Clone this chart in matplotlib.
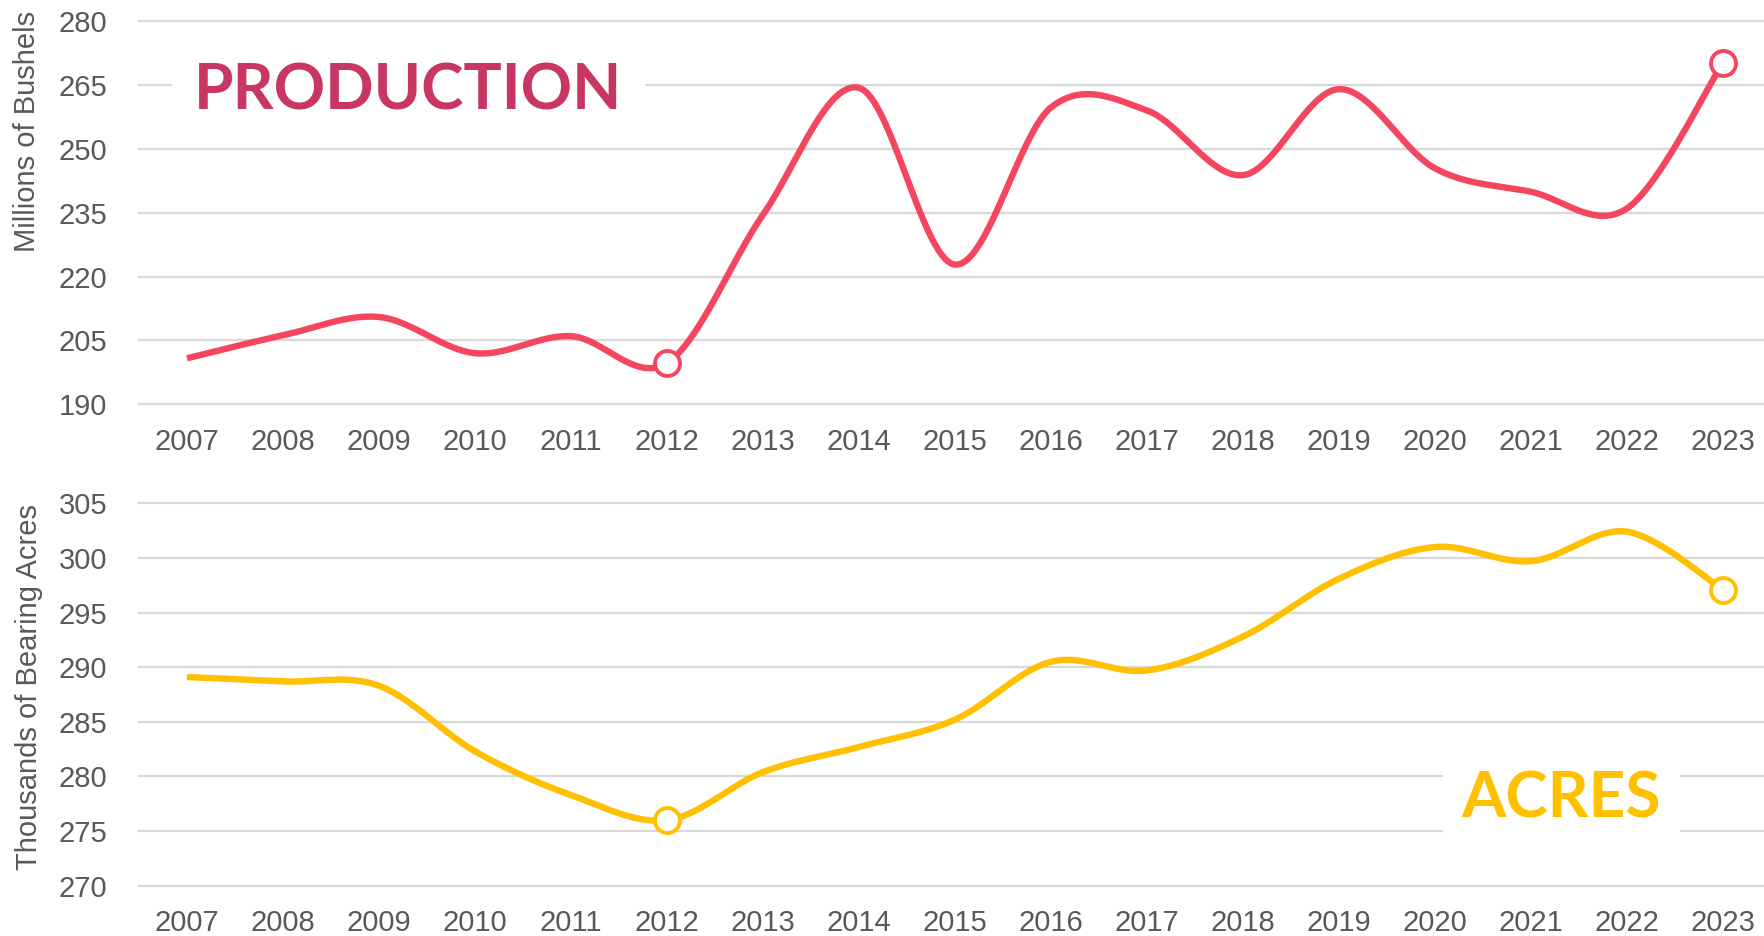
import numpy as np
import matplotlib
matplotlib.use("Agg")
import matplotlib.pyplot as plt

# ---- data ----
years = [str(y) for y in range(2007, 2024)]
production = [200.8, 206.2, 210.5, 202.0, 206.0, 199.7, 234.5, 264.3, 222.8,
              259.7, 259.0, 243.8, 264.0, 245.4, 239.9, 236.0, 270.2]
acres = [289.1, 288.7, 288.3, 282.3, 278.3, 276.0, 280.4, 282.7, 285.2,
         290.5, 289.7, 292.8, 298.1, 301.0, 299.7, 302.4, 297.1]
highlight_idx = [5, 16]
prod_ticks = [190, 205, 220, 235, 250, 265, 280]
acre_ticks = [270, 275, 280, 285, 290, 295, 300, 305]

PROD_LINE = "#F4475F"
PROD_TEXT = "#C83762"
ACRE_COL = "#FFC000"
GRID = "#D9D9D9"
TXT = "#595959"

plt.rcParams["font.family"] = ["Liberation Sans", "DejaVu Sans"]


def smooth(xs, ys, n=40):
    """Excel-like smoothed line: Catmull-Rom cubic Bezier through points."""
    xs = np.asarray(xs, float)
    ys = np.asarray(ys, float)
    px, py = [], []
    m = len(xs)
    for i in range(m - 1):
        x0, y0 = (xs[i - 1], ys[i - 1]) if i > 0 else (xs[i], ys[i])
        x1, y1 = xs[i], ys[i]
        x2, y2 = xs[i + 1], ys[i + 1]
        x3, y3 = (xs[i + 2], ys[i + 2]) if i + 2 < m else (xs[i + 1], ys[i + 1])
        c1x, c1y = x1 + (x2 - x0) / 6, y1 + (y2 - y0) / 6
        c2x, c2y = x2 - (x3 - x1) / 6, y2 - (y3 - y1) / 6
        t = np.linspace(0, 1, n)
        bx = (1 - t) ** 3 * x1 + 3 * (1 - t) ** 2 * t * c1x + 3 * (1 - t) * t ** 2 * c2x + t ** 3 * x2
        by = (1 - t) ** 3 * y1 + 3 * (1 - t) ** 2 * t * c1y + 3 * (1 - t) * t ** 2 * c2y + t ** 3 * y2
        px.extend(bx)
        py.extend(by)
    return np.array(px), np.array(py)


W, H = 1765, 936
fig = plt.figure(figsize=(W / 100, H / 100), dpi=100)
fig.patch.set_facecolor("white")


def fx(p):
    return p / W


def fy(p):
    return 1 - p / H


left = fx(139)
width = 1632 / W
ax1 = fig.add_axes([left, fy(404.3), width, (404.3 - 21) / H])
ax2 = fig.add_axes([left, fy(885.7), width, (885.7 - 503.3) / H])

x = np.arange(len(years))


def style(ax, ticks):
    ax.set_xlim(-0.5, len(years) - 0.5)
    ax.set_ylim(ticks[0], ticks[-1])
    ax.set_yticks(ticks)
    ax.set_xticks(x)
    ax.set_xticklabels(years)
    for s in ax.spines.values():
        s.set_visible(False)
    ax.tick_params(axis="both", length=0, labelsize=21, colors=TXT)
    ax.tick_params(axis="y", pad=23)
    ax.tick_params(axis="x", pad=17)
    ax.grid(axis="y", color=GRID, linewidth=1.6, zorder=0)
    ax.grid(axis="x", visible=False)
    for gl in ax.get_ygridlines():
        gl.set_clip_on(False)
    ax.set_axisbelow(True)
    ax.set_facecolor("none")


style(ax1, prod_ticks)
style(ax2, acre_ticks)

sx, sy = smooth(x, production)
ax1.plot(sx, sy, color=PROD_LINE, lw=4.6, solid_capstyle="butt", zorder=3, clip_on=False)
ax1.plot(x[highlight_idx], np.array(production)[highlight_idx], "o", ms=18,
         mfc="white", mec=PROD_LINE, mew=2.8, zorder=4, clip_on=False)

sx, sy = smooth(x, acres)
ax2.plot(sx, sy, color=ACRE_COL, lw=4.6, solid_capstyle="butt", zorder=3, clip_on=False)
ax2.plot(x[highlight_idx], np.array(acres)[highlight_idx], "o", ms=18,
         mfc="white", mec=ACRE_COL, mew=2.8, zorder=4, clip_on=False)

fig.text(fx(27), fy(131.5), "Millions of Bushels", rotation=90, ha="center",
         va="center", fontsize=21, color=TXT)
fig.text(fx(29), fy(687.4), "Thousands of Bearing Acres", rotation=90,
         ha="center", va="center", fontsize=21, color=TXT)

big_font = ["Lato", "DejaVu Sans"]
fig.text(fx(408.4), fy(109.3), "PRODUCTION", ha="center", va="baseline",
         fontsize=46, fontweight="bold", color=PROD_TEXT, family=big_font,
         bbox=dict(boxstyle="square,pad=0.35", fc="white", ec="none"))
fig.text(fx(1561.5), fy(818), "ACRES", ha="center", va="baseline",
         fontsize=46, fontweight="bold", color=ACRE_COL, family=big_font,
         bbox=dict(boxstyle="square,pad=0.3", fc="white", ec="none"))

fig.savefig("out.png", dpi=100, facecolor="white")
